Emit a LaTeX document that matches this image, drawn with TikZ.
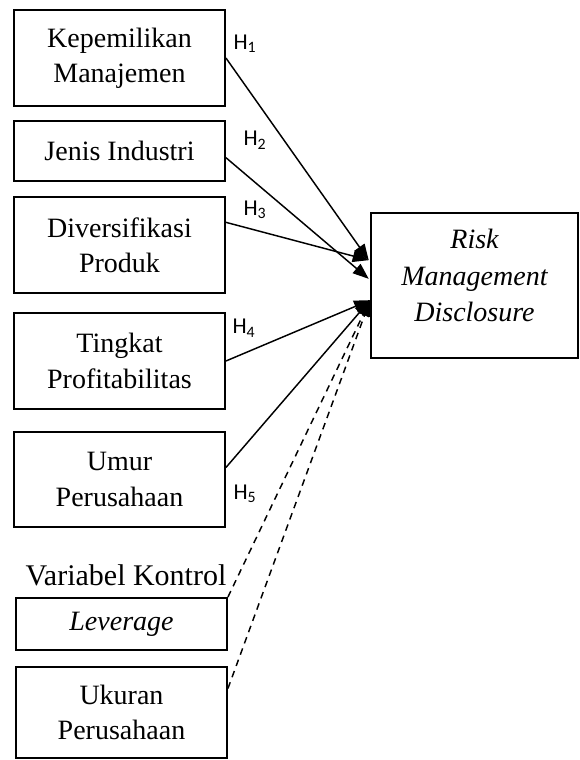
\documentclass[tikz,border=0pt]{standalone}
\usepackage{fontspec}
\setmainfont{Liberation Serif}
\newfontfamily\hfont{Carlito}
\usetikzlibrary{arrows.meta,positioning}

\begin{document}
\begin{tikzpicture}[x=0.75pt, y=-0.75pt,
    var/.style={draw, line width=1.4pt, minimum width=158.25pt, align=center,
        inner sep=2pt, font=\fontsize{21}{26.5}\selectfont},
    hyp/.style={font=\hfont\fontsize{17}{19}\selectfont, inner sep=0pt},
    arrow/.style={-{Triangle[length=12pt,width=9pt]}, line width=1.1pt},
    ctrl/.style={arrow, dash pattern=on 5pt off 4pt}
]
    \useasboundingbox (0,0) rectangle (580,760);

    % independent variables
    \node[var, minimum height=72pt] (km) at (119.5,58) {Kepemilikan\\Manajemen};
    \node[var, minimum height=45pt] (ji) at (119.5,151) {Jenis Industri};
    \node[var, minimum height=72pt] (dp) at (119.5,245) {Diversifikasi\\Produk};
    \node[var, minimum height=72pt] (tp) at (119.5,361) {Tingkat\\Profitabilitas};
    \node[var, minimum height=71.25pt] (up) at (119.5,479.5) {Umur\\Perusahaan};

    % control variables
    \node[anchor=base, font=\fontsize{22.5}{26}\selectfont, inner sep=0pt] (vk) at (126,585) {Variabel Kontrol};
    \node[var, minimum height=39pt] (lev) at (121.5,624) {\textit{Leverage}};
    \node[var, minimum height=68.25pt] (uk) at (121.5,712.5) {Ukuran\\Perusahaan};

    % dependent variable
    \node[draw, line width=1.4pt, minimum width=155.25pt, minimum height=108.75pt] (rmd) at (474.5,285.5) {};
    \node[align=center, font=\fontsize{21}{27.5}\selectfont\itshape] (rmdtxt) at ([yshift=7.5pt]rmd.center) {Risk\\Management\\Disclosure};

    \coordinate (in1) at ([xshift=-1pt, yshift=19pt]rmd.west);
    \coordinate (in2) at ([xshift=-1pt, yshift=5pt]rmd.west);
    \coordinate (in3) at ([yshift=-11pt]rmd.west);

    \draw[arrow] (km.east) -- (in1);
    \draw[arrow] ([yshift=-5pt]ji.east) -- (in2);
    \draw[arrow] ([yshift=17pt]dp.east) -- (in1);
    \draw[arrow] (tp.east) -- (in3);
    \draw[arrow] ([yshift=9pt]up.east) -- (in3);
    \draw[ctrl] (lev.north east) -- (in3);
    \draw[ctrl] ([yshift=18pt]uk.east) -- (in3);

    % hypotheses
    \node[hyp] (h1) at (245,44) {H\textsubscript{1}};
    \node[hyp] (h2) at (255,140) {H\textsubscript{2}};
    \node[hyp] (h3) at (255,210) {H\textsubscript{3}};
    \node[hyp] (h4) at (244,328) {H\textsubscript{4}};
    \node[hyp] (h5) at (245,494) {H\textsubscript{5}};
\end{tikzpicture}
\end{document}
